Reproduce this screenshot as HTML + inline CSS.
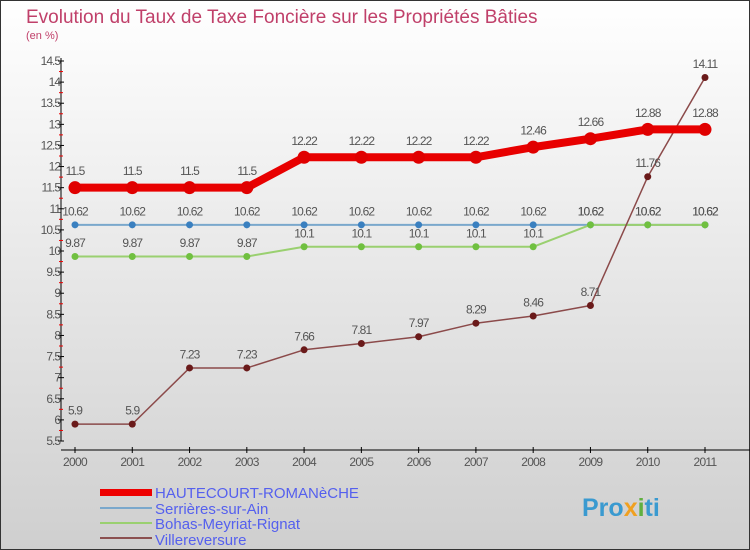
<!DOCTYPE html>
<html><head><meta charset="utf-8"><style>
body{margin:0}
#c{width:750px;height:550px;position:relative;overflow:hidden;font-family:"Liberation Sans",sans-serif}
</style></head><body>
<div id="c">
<svg id="s" width="750" height="550" xmlns="http://www.w3.org/2000/svg">
<defs><linearGradient id="bg" x1="0" y1="0" x2="0" y2="1"><stop offset="0" stop-color="#ffffff"/><stop offset="1" stop-color="#cfcfcf"/></linearGradient></defs>
<rect x="0.5" y="0.5" width="749" height="549" fill="url(#bg)" stroke="#333"/>
<text x="26" y="23" font-size="19" fill="#c0406a">Evolution du Taux de Taxe Foncière sur les Propriétés Bâties</text>
<text x="26" y="39" font-size="11" fill="#c0406a">(en %)</text>
<g id="axes"></g><g id="series"></g>
<g>
<rect x="100" y="489" width="52" height="7" fill="#e00"/>
<text x="155" y="498" font-size="15" fill="#5560ee">HAUTECOURT-ROMANèCHE</text>
<rect x="100" y="507" width="52" height="2" fill="#7aa8cc"/>
<text x="155" y="514" font-size="15" fill="#5560ee">Serrières-sur-Ain</text>
<rect x="100" y="522" width="52" height="2" fill="#9ad070"/>
<text x="155" y="529" font-size="15" fill="#5560ee">Bohas-Meyriat-Rignat</text>
<rect x="100" y="537" width="52" height="2" fill="#8b5050"/>
<text x="155" y="545" font-size="15" fill="#5560ee">Villereversure</text>
</g>
<text x="582" y="516" font-size="25" font-weight="bold" fill="#3a9ad0">Pro<tspan fill="#f0a020">x</tspan><tspan fill="#60b040">i</tspan>ti</text>
</svg></div>
<script>
const years=["2000","2001","2002","2003","2004","2005","2006","2007","2008","2009","2010","2011"];
const yTicks=[5.5,6,6.5,7,7.5,8,8.5,9,9.5,10,10.5,11,11.5,12,12.5,13,13.5,14,14.5];
const hautecourt=[11.5,11.5,11.5,11.5,12.22,12.22,12.22,12.22,12.46,12.66,12.88,12.88];
const serrieres=[10.62,10.62,10.62,10.62,10.62,10.62,10.62,10.62,10.62,10.62,10.62,10.62];
const bohas=[9.87,9.87,9.87,9.87,10.1,10.1,10.1,10.1,10.1,10.62,10.62,10.62];
const villereversure=[5.9,5.9,7.23,7.23,7.66,7.81,7.97,8.29,8.46,8.71,11.76,14.11];
const NS="http://www.w3.org/2000/svg";
function X(i){return 75+i*(630/11);}
function Y(v){return 441-(v-5.5)*(380/9);}
function mk(p,t,a){const e=document.createElementNS(NS,t);for(const k in a)e.setAttribute(k,a[k]);p.appendChild(e);return e;}
const ax=document.getElementById('axes');
let e=mk(ax,'line',{x1:61,y1:58,x2:61,y2:441,stroke:'#000'});


e=mk(ax,'line',{x1:61,y1:450,x2:750,y2:450,stroke:'#000'});


yTicks.forEach((v,i)=>{
 mk(ax,'line',{x1:58,y1:Y(v),x2:64,y2:Y(v),stroke:'#000'});
 if(i<yTicks.length-1) mk(ax,'line',{x1:59,y1:Y(v+0.25),x2:63,y2:Y(v+0.25),stroke:'#e00'});
 const t=mk(ax,'text',{x:60,y:Y(v)+4,'font-size':12,fill:'#555','text-anchor':'end','letter-spacing':'-1'});
 t.textContent=String(v);
 
 
});
years.forEach((y,i)=>{
 mk(ax,'line',{x1:X(i),y1:447,x2:X(i),y2:453,stroke:'#000'});
 const t=mk(ax,'text',{x:X(i),y:466,'font-size':12,fill:'#555','text-anchor':'middle','letter-spacing':'-0.7'});
 t.textContent=y;
 
 
});
const sg=document.getElementById('series');
function series(name,data,color,w,r,dot){
 const g=mk(sg,'g',{});
 
 
 mk(g,'polyline',{points:data.map((v,i)=>X(i)+','+Y(v)).join(' '),fill:'none',stroke:color,'stroke-width':w,'stroke-linejoin':'round'});
 data.forEach((v,i)=>{
  const c=mk(g,'circle',{cx:X(i),cy:Y(v),r:r,fill:dot});
  
  
  const t=mk(g,'text',{x:X(i),y:Y(v)-(r+6),'font-size':12,fill:'#555','text-anchor':'middle','letter-spacing':'-0.9'});
  t.textContent=String(v);
  
  
 });
}
series('serrieres',serrieres,'#7aa8cc',2,3.5,'#3a80c0');
series('bohas',bohas,'#9ad070',2,3.5,'#70c040');
series('villereversure',villereversure,'#8b4a4a',1.5,3.5,'#6a1a1a');
series('hautecourt',hautecourt,'#e80000',8,6.5,'#e00000');
</script>
</body></html>
